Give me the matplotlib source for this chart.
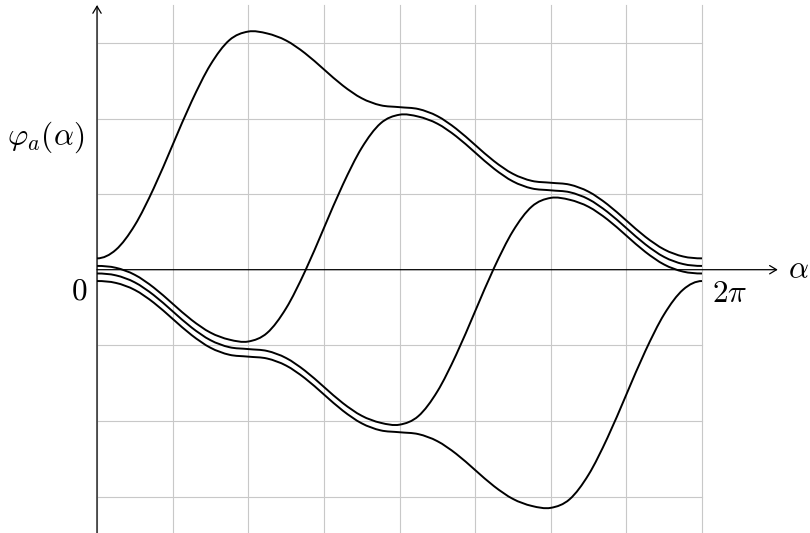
import numpy as np
import matplotlib
matplotlib.use("Agg")
import matplotlib.pyplot as plt
from matplotlib.path import Path
from matplotlib.patches import PathPatch, FancyArrowPatch

plt.rcParams['mathtext.fontset'] = 'cm'

# sample positions: alpha = k*pi/16, k = 0..32
alpha = np.arange(33) * np.pi / 16

phi_1 = [0.15, 0.264, 0.589, 1.077, 1.65, 2.223, 2.711, 3.036, 3.15,
         3.125, 3.032, 2.864, 2.65, 2.436, 2.268, 2.175, 2.15,
         2.125, 2.032, 1.864, 1.65, 1.436, 1.268, 1.175, 1.15,
         1.125, 1.032, 0.864, 0.65, 0.436, 0.268, 0.175, 0.15]
phi_2 = [0.05, 0.025, -0.068, -0.236, -0.45, -0.664, -0.832, -0.925, -0.95,
         -0.836, -0.511, -0.023, 0.55, 1.123, 1.611, 1.936, 2.05,
         2.025, 1.932, 1.764, 1.55, 1.336, 1.168, 1.075, 1.05,
         1.025, 0.932, 0.764, 0.55, 0.336, 0.168, 0.075, 0.05]
phi_3 = [-0.05, -0.075, -0.168, -0.336, -0.55, -0.764, -0.932, -1.025, -1.05,
         -1.075, -1.168, -1.336, -1.55, -1.764, -1.932, -2.025, -2.05,
         -1.936, -1.611, -1.123, -0.55, 0.023, 0.511, 0.836, 0.95,
         0.925, 0.832, 0.664, 0.45, 0.236, 0.068, -0.025, -0.05]
phi_4 = [-0.15, -0.175, -0.268, -0.436, -0.65, -0.864, -1.032, -1.125, -1.15,
         -1.175, -1.268, -1.436, -1.65, -1.864, -2.032, -2.125, -2.15,
         -2.175, -2.268, -2.436, -2.65, -2.864, -3.032, -3.125, -3.15,
         -3.036, -2.711, -2.223, -1.65, -1.077, -0.589, -0.264, -0.15]

x_grid = np.arange(9) * np.pi / 4
y_grid = [-3, -2, -1, 1, 2, 3]

fig = plt.figure(figsize=(8.1, 5.33), dpi=100)
ax = fig.add_axes([0, 0, 1, 1])
ax.set_axis_off()
ax.set_xlim(-97 / 96.29, (810 - 97) / 96.29)
ax.set_ylim(-(533 - 269.7) / 75.6, 269.7 / 75.6)

grid_kw = dict(color='#c8c8c8', lw=0.8, zorder=1)
for xv in x_grid:
    ax.plot([xv, xv], [-3.6, 3.5], **grid_kw)
for yv in y_grid:
    ax.plot([0, 2 * np.pi], [yv, yv], **grid_kw)

# axes with arrows
ax.add_patch(FancyArrowPatch((0, 0), (7.07, 0), arrowstyle='->,head_length=5,head_width=3',
                             mutation_scale=1, lw=0.9, color='black', zorder=3,
                             shrinkA=0, shrinkB=0))
ax.add_patch(FancyArrowPatch((0, -3.6), (0, 3.50), arrowstyle='->,head_length=5,head_width=3',
                             mutation_scale=1, lw=0.9, color='black', zorder=3,
                             shrinkA=0, shrinkB=0))


def smooth_path(xs, ys):
    xs = np.asarray(xs, float)
    ys = np.asarray(ys, float)
    n = len(xs)
    tx = np.empty(n)
    ty = np.empty(n)
    tx[1:-1] = (xs[2:] - xs[:-2]) / 2
    ty[1:-1] = (ys[2:] - ys[:-2]) / 2
    # curves start and end flat
    tx[0], ty[0] = xs[1] - xs[0], 0.0
    tx[-1], ty[-1] = xs[-1] - xs[-2], 0.0
    verts = [(xs[0], ys[0])]
    codes = [Path.MOVETO]
    for i in range(n - 1):
        verts.append((xs[i] + tx[i] / 3, ys[i] + ty[i] / 3))
        verts.append((xs[i + 1] - tx[i + 1] / 3, ys[i + 1] - ty[i + 1] / 3))
        verts.append((xs[i + 1], ys[i + 1]))
        codes += [Path.CURVE4] * 3
    return Path(verts, codes)


for series in (phi_1, phi_2, phi_3, phi_4):
    ax.add_patch(PathPatch(smooth_path(alpha, series), fill=False, lw=1.4,
                           edgecolor='black', zorder=4, capstyle='butt'))

fs = 22.5
ax.text(-0.187, -0.282, r'$0$', fontsize=fs, ha='center', va='center')
ax.text(6.574, -0.321, r'$2\pi$', fontsize=fs, ha='center', va='center')
ax.text(7.28, 0.0, r'$\alpha$', fontsize=fs, ha='center', va='center')
ax.text(-0.53, 1.755, r'$\varphi_a(\alpha)$', fontsize=fs, ha='center', va='center')

fig.savefig('out.png', dpi=100)
